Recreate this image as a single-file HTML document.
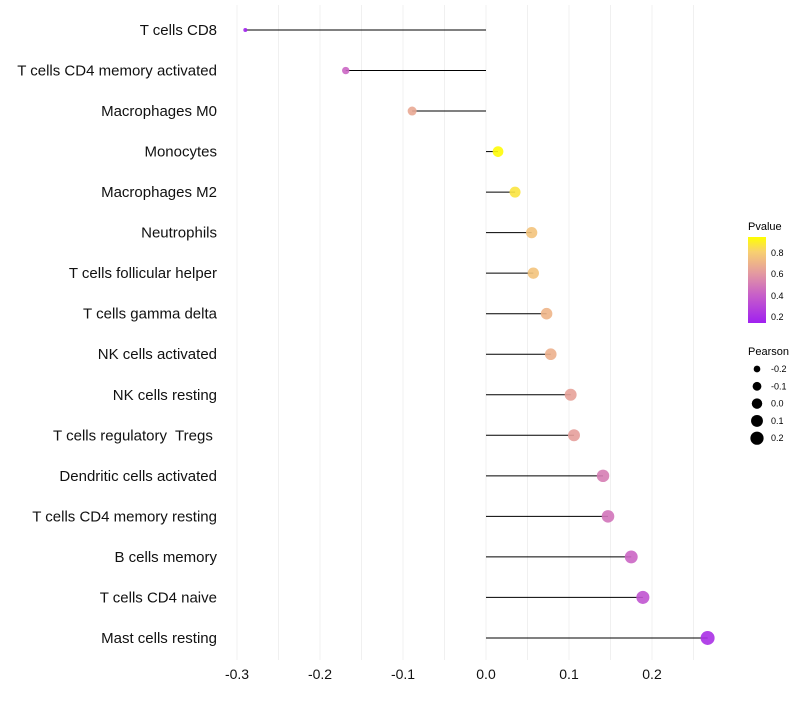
<!DOCTYPE html>
<html><head><meta charset="utf-8"><style>
body{margin:0;background:#fff;font-family:"Liberation Sans",sans-serif}
svg text{font-family:"Liberation Sans",sans-serif;white-space:pre}
</style></head><body>
<svg id="c" width="800" height="700">
<defs><linearGradient id="pg" x1="0" y1="1" x2="0" y2="0">
<stop offset="0" stop-color="#a020f0"/><stop offset="0.33" stop-color="#c860c8"/><stop offset="0.58" stop-color="#e49aa0"/><stop offset="0.83" stop-color="#f8d070"/><stop offset="1" stop-color="#ffff00"/>
</linearGradient></defs>
<g id="grid"></g><g id="marks"></g><g id="labels"></g>
<g>
<text x="748" y="230" font-size="11">Pvalue</text>
<rect x="748" y="237" width="18" height="86" fill="url(#pg)"/>
<text x="771" y="256" font-size="9">0.8</text><text x="771" y="277" font-size="9">0.6</text>
<text x="771" y="299" font-size="9">0.4</text><text x="771" y="320" font-size="9">0.2</text>
</g>
<g id="sizeleg">
<text x="748" y="355" font-size="11">Pearson</text>
</g>
</svg>
<script>
const categories=["T cells CD8","T cells CD4 memory activated","Macrophages M0","Monocytes","Macrophages M2","Neutrophils","T cells follicular helper","T cells gamma delta","NK cells activated","NK cells resting","T cells regulatory  Tregs ","Dendritic cells activated","T cells CD4 memory resting","B cells memory","T cells CD4 naive","Mast cells resting"];
const pearson=[-0.290,-0.169,-0.089,0.0145,0.035,0.055,0.057,0.073,0.078,0.102,0.106,0.141,0.147,0.175,0.189,0.267];
const pvalue=[0.15,0.42,0.65,0.93,0.86,0.75,0.75,0.70,0.68,0.63,0.62,0.50,0.47,0.42,0.35,0.20];
const xTicks=[-0.3,-0.2,-0.1,0.0,0.1,0.2];
const sizeLegend=[-0.2,-0.1,0.0,0.1,0.2];
const NS="http://www.w3.org/2000/svg";
const x=v=>486+v*830;
const y=i=>30+i*40.53;
const r=v=>Math.sqrt(Math.max(1,4+(v+0.29)*80.8));
const stops=[[0.135,[160,32,240]],[0.4,[200,96,200]],[0.6,[228,154,160]],[0.8,[248,208,112]],[0.94,[255,255,0]]];
function col(p){if(p<=stops[0][0])return`rgb(${stops[0][1]})`;for(let k=1;k<stops.length;k++){if(p<=stops[k][0]){const a=stops[k-1],b=stops[k],t=(p-a[0])/(b[0]-a[0]);return`rgb(${a[1].map((c,j)=>Math.round(c+(b[1][j]-c)*t))})`;}}return`rgb(${stops[4][1]})`;}
function mk(t,a,p){const e=document.createElementNS(NS,t);for(const k in a)e.setAttribute(k,a[k]);p.appendChild(e);return e;}
const g=document.getElementById('grid'),m=document.getElementById('marks'),l=document.getElementById('labels');
for(let v=-0.3;v<=0.26;v+=0.05){const gl=mk('line',{x1:x(v),x2:x(v),y1:5,y2:660,stroke:'#f0f0f0','stroke-width':1},g);

}
xTicks.forEach(t=>{const tx=mk('text',{x:x(t),y:679,'font-size':14,'text-anchor':'middle',fill:'#111'},l);tx.textContent=t===0?'0.0':String(t);

});
categories.forEach((c,i)=>{const tx=mk('text',{x:217,y:y(i)+5,'font-size':15,'text-anchor':'end',fill:'#111'},l);tx.textContent=c;


const ln=mk('line',{x1:x(0),x2:x(pearson[i]),y1:y(i),y2:y(i),stroke:'#000','stroke-width':1},m);


const ci=mk('circle',{cx:x(pearson[i]),cy:y(i),r:r(pearson[i]),fill:col(pvalue[i]),'fill-opacity':0.9},m);

});
const sl=document.getElementById('sizeleg');
sizeLegend.forEach((v,k)=>{const cy=369+k*17.3;const ci=mk('circle',{cx:757,cy:cy,r:r(v),fill:'#000'},sl);


const tx=mk('text',{x:771,y:cy+3,'font-size':9},sl);tx.textContent=v.toFixed(1);

});
</script>
</body></html>
